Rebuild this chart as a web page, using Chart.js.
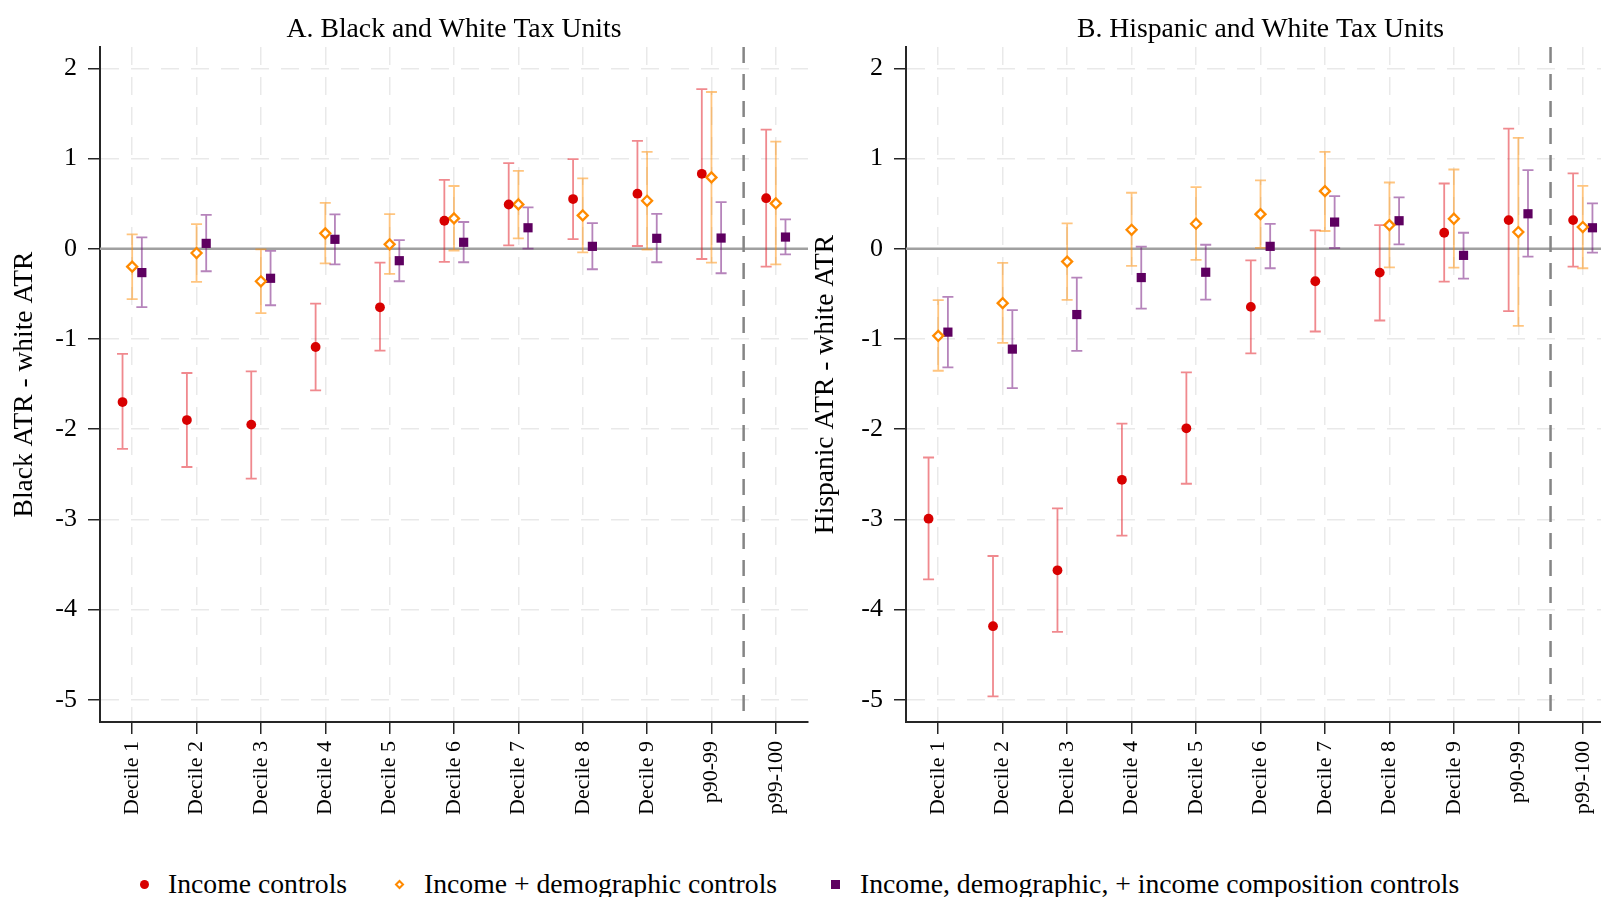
<!DOCTYPE html>
<html>
<head>
<meta charset="utf-8">
<script src="https://cdn.jsdelivr.net/npm/chart.js@4.4.0/dist/chart.umd.min.js"></script>
<style>
  html, body { margin: 0; padding: 0; background: #fff; }
  body { width: 1601px; height: 897px; overflow: hidden; position: relative;
         font-family: "Liberation Serif", "Times New Roman", serif; color: #000; }
  #panelA { position: absolute; left: 0; top: 0; }
  #panelB { position: absolute; left: 800px; top: 0; }
  .key { position: absolute; top: 867px; height: 34px; line-height: 34px; font-size: 27.7px;
         display: flex; align-items: center; white-space: nowrap; }
  .dot { width: 9px; height: 9px; border-radius: 50%; background: #d80000; margin-right: 19px; }
  .dia { width: 3px; height: 3px; border: 2px solid #ff8a00; background: #fff;
         transform: rotate(45deg); margin-right: 21px; }
  .sq  { width: 9px; height: 9px; background: #5e0060; margin-right: 20px; }
</style>
</head>
<body>
<canvas id="panelA" width="820" height="845"></canvas>
<canvas id="panelB" width="830" height="845"></canvas>
<div class="key" style="left:140px"><span class="dot"></span>Income controls</div>
<div class="key" style="left:396px"><span class="dia"></span>Income + demographic controls</div>
<div class="key" style="left:831px"><span class="sq"></span>Income, demographic, + income composition controls</div>

<script>
// Income groups on the horizontal axis
const categories = ['Decile 1', 'Decile 2', 'Decile 3', 'Decile 4', 'Decile 5',
                    'Decile 6', 'Decile 7', 'Decile 8', 'Decile 9', 'p90-99', 'p99-100'];
const yTickValues = [-5, -4, -3, -2, -1, 0, 1, 2];
const seriesNames = ['Income controls', 'Income + demographic controls',
                     'Income, demographic, + income composition controls'];

// Panel A: Black minus white average tax rate (points and 95% CI bounds)
const blackIncome      = [-1.70, -1.90, -1.95, -1.09, -0.65, 0.31, 0.49, 0.55, 0.61, 0.83, 0.56];
const blackIncomeLo    = [-2.22, -2.42, -2.55, -1.57, -1.13, -0.145, 0.037, 0.107, 0.03, -0.114, -0.199];
const blackIncomeHi    = [-1.165, -1.378, -1.36, -0.608, -0.154, 0.762, 0.948, 0.992, 1.195, 1.77, 1.32];
const blackDemo        = [-0.199, -0.048, -0.361, 0.170, 0.048, 0.336, 0.491, 0.369, 0.531, 0.79, 0.502];
const blackDemoLo      = [-0.56, -0.368, -0.715, -0.162, -0.28, -0.02, 0.115, -0.04, -0.011, -0.155, -0.173];
const blackDemoHi      = [0.159, 0.273, -0.007, 0.509, 0.384, 0.695, 0.863, 0.779, 1.073, 1.737, 1.188];
const blackComp        = [-0.265, 0.059, -0.328, 0.104, -0.133, 0.071, 0.232, 0.026, 0.115, 0.118, 0.129];
const blackCompLo      = [-0.648, -0.25, -0.627, -0.173, -0.361, -0.15, 0.0, -0.228, -0.15, -0.272, -0.062];
const blackCompHi      = [0.126, 0.376, -0.025, 0.38, 0.096, 0.296, 0.458, 0.284, 0.387, 0.517, 0.325];

// Panel B: Hispanic minus white average tax rate
const hispIncome       = [-2.993, -4.185, -3.565, -2.562, -1.991, -0.645, -0.361, -0.265, 0.177, 0.317, 0.317];
const hispIncomeLo     = [-3.665, -4.962, -4.248, -3.181, -2.606, -1.161, -0.918, -0.796, -0.365, -0.692, -0.199];
const hispIncomeHi     = [-2.315, -3.407, -2.879, -1.94, -1.372, -0.129, 0.203, 0.262, 0.723, 1.332, 0.834];
const hispDemo         = [-0.966, -0.604, -0.143, 0.21, 0.277, 0.383, 0.638, 0.262, 0.332, 0.185, 0.24];
const hispDemoLo       = [-1.353, -1.043, -0.567, -0.191, -0.125, 0.01, 0.196, -0.206, -0.21, -0.855, -0.217];
const hispDemoHi       = [-0.571, -0.158, 0.281, 0.62, 0.683, 0.757, 1.073, 0.734, 0.878, 1.228, 0.697];
const hispComp         = [-0.925, -1.113, -0.73, -0.32, -0.261, 0.026, 0.295, 0.31, -0.074, 0.387, 0.232];
const hispCompLo       = [-1.316, -1.545, -1.132, -0.664, -0.564, -0.217, 0.008, 0.048, -0.332, -0.088, -0.044];
const hispCompHi       = [-0.534, -0.682, -0.32, 0.022, 0.044, 0.275, 0.583, 0.568, 0.177, 0.871, 0.502];

// Reference lines: no-gap line and the split before the top percentile
const zeroValue = 0;
const topSplit = 9.5;

const FONT = '"Liberation Serif", "Times New Roman", serif';

// Marker appearance per specification, in series order
const seriesStyles = [
  { shift: -0.15, pointStyle: 'circle',  radius: 4.9, fill: '#d80000', stroke: '#d80000', width: 0,   ci: 'rgba(225, 20, 30, 0.5)' },
  { shift: 0,     pointStyle: 'rectRot', radius: 5.0, fill: '#ffffff', stroke: '#ff8a00', width: 2.3, ci: 'rgba(255, 140, 0, 0.5)' },
  { shift: 0.15,  pointStyle: 'rect',    radius: 6.5, fill: '#5e0060', stroke: '#5e0060', width: 0,   ci: 'rgba(110, 10, 120, 0.5)' }
];

// Draws the zero line, the dashed divider and the confidence intervals under the markers
const intervalPlugin = {
  id: 'intervals',
  beforeDatasetsDraw(chart) {
    const { ctx, chartArea: a, scales: { x, y } } = chart;
    ctx.save();
    ctx.beginPath();
    ctx.rect(a.left, a.top, a.right - a.left, a.bottom - a.top);
    ctx.clip();

    const y0 = y.getPixelForValue(zeroValue);
    ctx.strokeStyle = '#a0a0a0';
    ctx.lineWidth = 2.5;
    ctx.beginPath(); ctx.moveTo(a.left, y0); ctx.lineTo(a.right, y0); ctx.stroke();

    const xs = x.getPixelForValue(topSplit);
    ctx.strokeStyle = '#858585';
    ctx.lineWidth = 2.5;
    ctx.setLineDash([16, 11]);
    ctx.beginPath(); ctx.moveTo(xs, a.top); ctx.lineTo(xs, a.bottom); ctx.stroke();
    ctx.setLineDash([]);

    const cap = 5.5;
    chart.data.datasets.forEach(ds => {
      ctx.strokeStyle = ds.ciColor;
      ctx.lineWidth = 1.8;
      ds.data.forEach((p, i) => {
        const px = x.getPixelForValue(p.x);
        const top = y.getPixelForValue(ds.hi[i]);
        const bot = y.getPixelForValue(ds.lo[i]);
        ctx.beginPath();
        ctx.moveTo(px, top); ctx.lineTo(px, bot);
        ctx.moveTo(px - cap, top); ctx.lineTo(px + cap, top);
        ctx.moveTo(px - cap, bot); ctx.lineTo(px + cap, bot);
        ctx.stroke();
      });
    });
    ctx.restore();
  }
};

function makePanel(canvasId, title, yTitle, series, yAxisWidth, rightPad, yTitlePad) {
  const datasets = series.map((s, k) => {
    const st = seriesStyles[k];
    return {
      label: seriesNames[k],
      data: s.est.map((v, i) => ({ x: i + st.shift, y: v })),
      lo: s.lo,
      hi: s.hi,
      ciColor: st.ci,
      pointStyle: st.pointStyle,
      pointRadius: st.radius,
      pointHoverRadius: st.radius,
      pointBackgroundColor: st.fill,
      pointBorderColor: st.stroke,
      pointBorderWidth: st.width,
      showLine: false
    };
  });

  const gridBase = { color: '#e9e9e9', lineWidth: 1.5, tickColor: '#262626', tickWidth: 1.5, tickLength: 12 };
  const borderBase = { color: '#262626', width: 2, dash: [18, 12] };

  return new Chart(document.getElementById(canvasId), {
    type: 'scatter',
    data: { datasets },
    plugins: [intervalPlugin],
    options: {
      responsive: false,
      animation: false,
      devicePixelRatio: 1,
      layout: { padding: { left: 0, right: rightPad, top: 0, bottom: 0 } },
      plugins: {
        legend: { display: false },
        tooltip: { enabled: false },
        title: {
          display: true, text: title, fullSize: false, color: '#000',
          font: { family: FONT, size: 27.7, weight: 'normal' },
          padding: { top: 12.8, bottom: 0.96 }
        }
      },
      scales: {
        x: {
          type: 'linear', min: -0.5, max: 10.5,
          afterBuildTicks: s => { s.ticks = categories.map((c, i) => ({ value: i })); },
          afterFit: s => { s.height = 845 - 722; },
          ticks: {
            autoSkip: false, minRotation: 90, maxRotation: 90, padding: 7, color: '#000',
            font: { family: FONT, size: 22 },
            callback: v => categories[Math.round(v)]
          },
          grid: gridBase,
          border: borderBase
        },
        y: {
          type: 'linear', min: -5.247, max: 2.236,
          afterBuildTicks: s => { s.ticks = yTickValues.map(v => ({ value: v })); },
          afterFit: s => { s.width = yAxisWidth; },
          ticks: {
            padding: 11, color: '#000',
            font: { family: FONT, size: 26 },
            callback: v => String(v)
          },
          grid: gridBase,
          border: borderBase,
          title: {
            display: true, text: yTitle, color: '#000',
            font: { family: FONT, size: 27.5 },
            padding: { top: yTitlePad, bottom: 0 }
          }
        }
      }
    }
  });
}

makePanel('panelA', 'A. Black and White Tax Units', 'Black ATR - white ATR', [
  { est: blackIncome, lo: blackIncomeLo, hi: blackIncomeHi },
  { est: blackDemo,   lo: blackDemoLo,   hi: blackDemoHi },
  { est: blackComp,   lo: blackCompLo,   hi: blackCompHi }
], 100, 12, 8.5);

makePanel('panelB', 'B. Hispanic and White Tax Units', 'Hispanic ATR - white ATR', [
  { est: hispIncome, lo: hispIncomeLo, hi: hispIncomeHi },
  { est: hispDemo,   lo: hispDemoLo,   hi: hispDemoHi },
  { est: hispComp,   lo: hispCompLo,   hi: hispCompHi }
], 106, 15, 9.5);
</script>
</body>
</html>
